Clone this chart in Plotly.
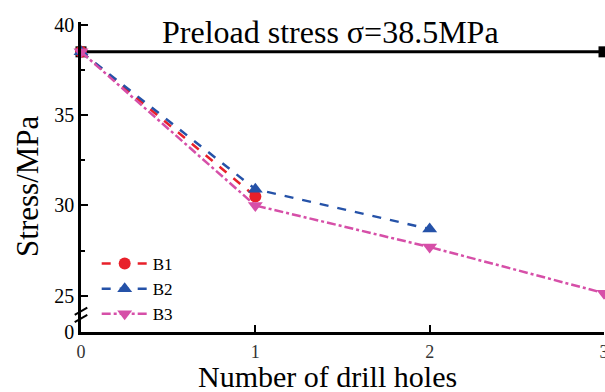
import plotly.graph_objects as go

holes = [0, 1, 2, 3]
b1 = [38.5, 30.5]
b2 = [38.5, 30.9, 28.7]
b3 = [38.5, 30.0, 27.7, 25.15]
preload = [38.5, 38.5]
preload_x = [0, 3]
y_tickvals = [23.0, 25, 30, 35, 40]
y_ticktext = ["0", "25", "30", "35", "40"]
x_tickvals = [0, 1, 2, 3]
x_ticktext = ["0", "1", "2", "3"]

FONT = "Liberation Serif, Times New Roman, serif"

fig = go.Figure()
fig.add_trace(go.Scatter(x=preload_x, y=preload, mode="lines+markers",
                         line=dict(color="black", width=3),
                         marker=dict(symbol="square", size=11, color="black"),
                         showlegend=False, cliponaxis=False))
fig.add_trace(go.Scatter(x=holes[:len(b1)], y=b1, name="B1", mode="lines+markers",
                         line=dict(color="#e8202a", width=2.5, dash="dash"),
                         marker=dict(symbol="circle", size=12, color="#e8202a"),
                         cliponaxis=False))
fig.add_trace(go.Scatter(x=holes[:len(b2)], y=b2, name="B2", mode="lines+markers",
                         line=dict(color="#2552a8", width=2.5, dash="dash"),
                         marker=dict(symbol="triangle-up", size=13, color="#2552a8"),
                         cliponaxis=False))
fig.add_trace(go.Scatter(x=holes[:len(b3)], y=b3, name="B3", mode="lines+markers",
                         line=dict(color="#d64fa8", width=2.5, dash="dashdot"),
                         marker=dict(symbol="triangle-down", size=13, color="#d64fa8"),
                         cliponaxis=False))

fig.update_layout(
    width=605, height=392,
    margin=dict(l=81, r=1, t=22, b=60, autoexpand=False),
    plot_bgcolor="white", paper_bgcolor="white",
    font=dict(family=FONT, color="black", size=19),
    showlegend=True,
    legend=dict(x=0.030, y=0.0, xanchor="left", yanchor="bottom",
                bgcolor="rgba(0,0,0,0)", font=dict(size=17, family=FONT),
                tracegroupgap=0, itemwidth=46),
    xaxis=dict(range=[0, 3], tickvals=x_tickvals, ticktext=x_ticktext,
               showline=True, linecolor="black", linewidth=2.5,
               ticks="inside", ticklen=7, tickwidth=2, tickcolor="black",
               showgrid=False, zeroline=False, mirror=False, automargin=False,
               ticklabelstandoff=2, ticklabeloverflow="allow",
               tickfont=dict(size=18, color="#333")),
    yaxis=dict(range=[23.0, 40.15], tickvals=y_tickvals, ticktext=y_ticktext,
               showline=True, linecolor="black", linewidth=2.5,
               ticks="inside", ticklen=7, tickwidth=2, tickcolor="black",
               minor=dict(tickvals=[27.5, 32.5, 37.5], ticks="inside", ticklen=4,
                          tickwidth=2, tickcolor="black"),
               showgrid=False, zeroline=False, mirror=False, automargin=False,
               tickfont=dict(size=20)),
)

fig.add_annotation(text="Preload stress σ=38.5MPa", xref="paper", yref="paper",
                   x=0.478, y=0.967, xanchor="center", yanchor="middle",
                   showarrow=False, font=dict(size=32, family=FONT))
fig.add_annotation(text="Number of drill holes", xref="paper", yref="paper",
                   x=0.471, y=0, yshift=-44, xanchor="center", yanchor="middle",
                   showarrow=False, font=dict(size=30, family=FONT))
fig.add_annotation(text="Stress/MPa", xref="paper", yref="paper",
                   x=0, xshift=-53, y=0.468, xanchor="center", yanchor="middle",
                   textangle=-90, showarrow=False, font=dict(size=31, family=FONT))

# axis-break marks
for yb in [23.75, 24.15]:
    fig.add_shape(type="line", xref="paper", yref="y",
                  x0=-0.012, x1=0.012, y0=yb - 0.2, y1=yb + 0.2,
                  line=dict(color="black", width=2))

fig.write_html("out.html", config={"displayModeBar": False},
               post_script="document.body.style.margin='0';document.body.style.overflow='hidden';")
